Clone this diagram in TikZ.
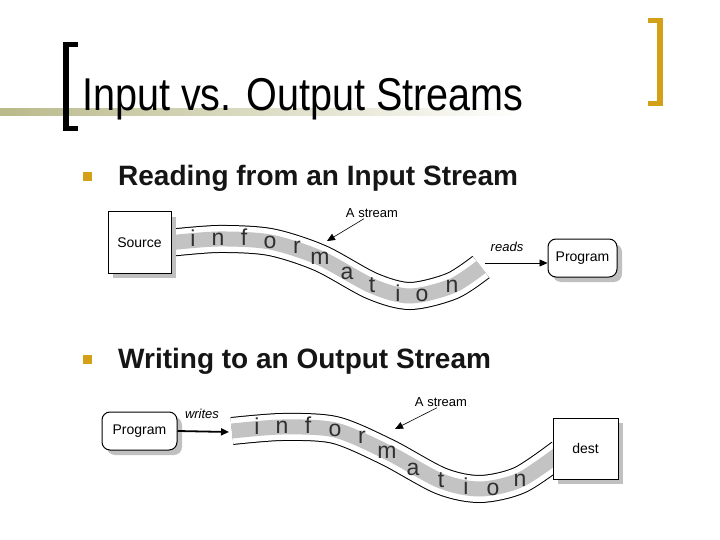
\documentclass[tikz,border=0pt]{standalone}
\usepackage{fontspec}
\setmainfont{Liberation Sans}
\usepackage{tikz}
\usetikzlibrary{positioning, arrows.meta, shadows, calc}
\definecolor{cGold}  {HTML}{D4A017}
\definecolor{cOlive} {HTML}{B9BA8A}
\definecolor{cText}  {HTML}{151515}
\definecolor{cBand}  {HTML}{C3C3C3}
\definecolor{cShadow}{HTML}{C0C0C0}
\definecolor{cLetter}{HTML}{303030}
\tikzset{
  boxshadow/.style={drop shadow={shadow xshift=5pt, shadow yshift=-5pt, fill=cShadow, opacity=1}},
  srcbox/.style={draw, line width=1pt, fill=white, boxshadow, font=\fontsize{14}{16}\selectfont},
  progbox/.style={srcbox, rounded corners=8pt},
  letter/.style={anchor=base, inner sep=0pt, text=cLetter, font=\fontsize{23}{26}\selectfont},
  lbl/.style={inner sep=1pt, font=\fontsize{13}{15}\selectfont},
  flow/.style={-{Triangle[length=8pt,width=7pt]}},
  pipe/.style={line width=1pt, double=white, double distance=26pt},
  band/.style={cBand, line width=15pt},
}
\begin{document}
\begin{tikzpicture}[x=1pt, y=-1pt]
  \useasboundingbox (0,0) rectangle (720,540);
  \fill[white] (0,0) rectangle (720,540);
  % title bar
  \shade[left color=cOlive, right color=white] (0,109) rectangle (525,116);
  \fill (63,42) rectangle (69,131);
  \fill (63,42) rectangle (78,47);
  \fill (63,126) rectangle (78,131);
  \fill[cGold] (657,18) rectangle (663,106);
  \fill[cGold] (648,18) rectangle (663,23);
  \fill[cGold] (648,101) rectangle (663,106);
  \node[anchor=base west, inner sep=0pt, font=\fontsize{46}{50}\selectfont] (title) at (82,111) {\scalebox{0.86}[1]{Input vs. Output Streams}};
  % bullets
  \node[fill=cGold, minimum size=9pt, inner sep=0pt] (bul1) at (87.5,177) {};
  \node[anchor=base west, inner sep=0pt, text=cText, font=\bfseries\fontsize{28}{32}\selectfont] (head1) at (118,186) {Reading from an Input Stream};
  \node[fill=cGold, minimum size=9pt, inner sep=0pt] (bul2) at (87.5,359) {};
  \node[anchor=base west, inner sep=0pt, text=cText, font=\bfseries\fontsize{28}{32}\selectfont] (head2) at (118,368) {Writing to an Output Stream};
  % input stream
  \draw[pipe] plot[smooth] coordinates {(168,243) (218,239) (270,242) (320,258) (372,286) (410,296) (452,286) (481,267)};
  \draw[band] plot[smooth] coordinates {(168,243) (218,239) (270,242) (320,258) (372,286) (410,296) (452,286) (481,267)};
  \foreach \ch/\x/\y [count=\k] in {i/193/246, n/218/245, f/244/245, o/270/248, r/297/254, m/320/264,
                                    a/347/279, t/372/292, i/398/301, o/422/301, n/452/292}
    \node[letter] (inA\k) at (\x,\y) {\ch};
  \node[srcbox, minimum width=63pt, minimum height=61pt] (src) at (139.5,242.5) {Source};
  \node[progbox, minimum width=69pt, minimum height=38pt] (prog1) at (582.5,258) {Program};
  \node[lbl] (as1) at (372,213) {A stream};
  \coordinate (as1tip) at (327,241);
  \draw[flow, line width=0.6pt] ([xshift=-8pt]as1.south) -- (as1tip);
  \node[lbl, font=\itshape\fontsize{13}{15}\selectfont] (reads) at (507,247) {reads};
  \coordinate (rdStart) at (485,263);
  \draw[flow, line width=0.6pt] (rdStart) -- (rdStart -| prog1.west);
  % output stream
  \draw[pipe] plot[smooth] coordinates {(232,431) (282,427) (335,430) (387,452) (441,481) (480,489) (520,480) (560,453)};
  \draw[band] plot[smooth] coordinates {(232,431) (282,427) (335,430) (387,452) (441,481) (480,489) (520,480) (560,453)};
  \foreach \ch/\x/\y [count=\k] in {i/257/434, n/282/433, f/308/433, o/335/436, r/362/443, m/387/458,
                                    a/413/475, t/441/487, i/466/494, o/493/495, n/520/486}
    \node[letter] (inB\k) at (\x,\y) {\ch};
  \node[progbox, minimum width=75pt, minimum height=38pt] (prog2) at (139.5,431) {Program};
  \node[srcbox, minimum width=65pt, minimum height=61pt] (dest) at (585.5,448.5) {dest};
  \node[lbl, font=\itshape\fontsize{13}{15}\selectfont] (writes) at (202,414) {writes};
  \coordinate (wrEnd) at (229,432);
  \draw[flow, line width=1.8pt] (prog2.east) -- (wrEnd);
  \node[lbl] (as2) at (441,402) {A stream};
  \coordinate (as2tip) at (395,429);
  \draw[flow, line width=0.6pt] ([xshift=-4pt]as2.south) -- (as2tip);
\end{tikzpicture}
\end{document}
